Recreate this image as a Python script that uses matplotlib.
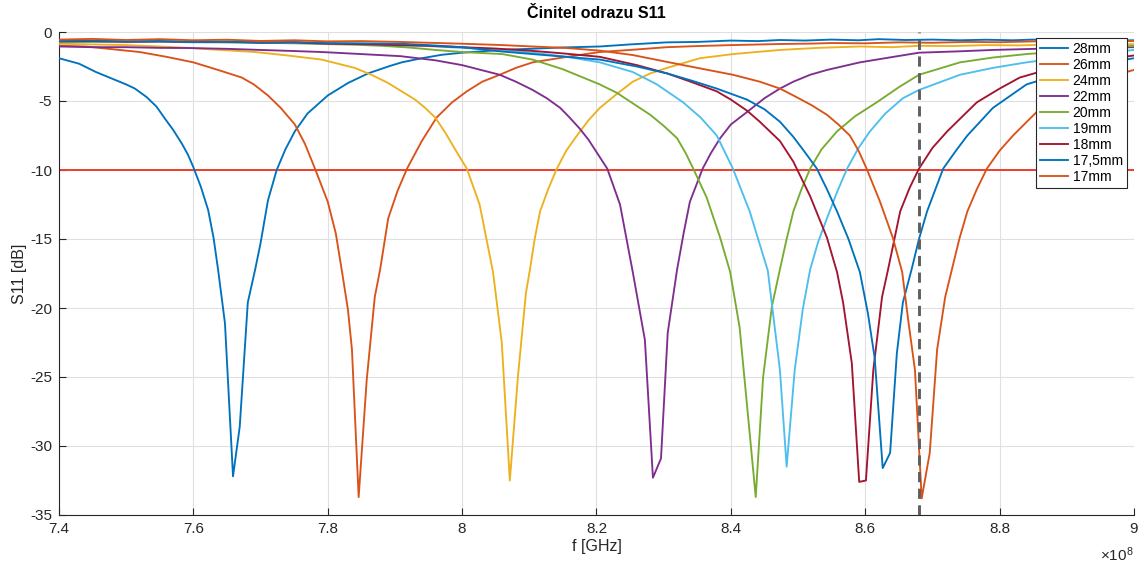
import matplotlib
matplotlib.use("Agg")
import matplotlib.pyplot as plt
from matplotlib.ticker import FixedLocator, FixedFormatter

plt.rcParams['font.family'] = ['Liberation Sans', 'DejaVu Sans']
plt.rcParams['axes.unicode_minus'] = False
plt.rcParams['mathtext.default'] = 'regular'

# Frequencies are given in units of 1e8 Hz, S11 in dB
HZ = 1e8

f28 = [7.400, 7.430, 7.455, 7.480, 7.500, 7.513, 7.530, 7.545, 7.558, 7.570, 7.583, 7.592,
       7.600, 7.611, 7.622, 7.630, 7.637, 7.647, 7.659, 7.669, 7.681, 7.692, 7.700, 7.711,
       7.724, 7.737, 7.751, 7.770, 7.800, 7.830, 7.860, 7.890, 7.910, 7.940, 7.970, 8.000,
       8.030, 8.056, 8.100, 8.150, 8.205, 8.250, 8.305, 8.350, 8.400, 8.440, 8.473, 8.510,
       8.550, 8.590, 8.620, 8.660, 8.700, 8.740, 8.780, 8.820, 8.850, 8.890, 8.920, 8.960, 9.000]
s28 = [-1.9, -2.3, -2.9, -3.4, -3.8, -4.1, -4.7, -5.4, -6.3, -7.1, -8.1, -8.9,
       -9.8, -11.2, -12.9, -14.9, -17.3, -21.1, -32.2, -28.6, -19.6, -17.2, -15.3, -12.2,
       -10.0, -8.5, -7.2, -5.9, -4.6, -3.7, -3.0, -2.5, -2.2, -1.9, -1.65, -1.5,
       -1.4, -1.3, -1.22, -1.12, -1.05, -0.9, -0.75, -0.72, -0.62, -0.66, -0.58, -0.62,
       -0.55, -0.6, -0.52, -0.58, -0.55, -0.6, -0.56, -0.6, -0.55, -0.6, -0.58, -0.62, -0.6]

f26 = [7.400, 7.440, 7.480, 7.520, 7.560, 7.600, 7.640, 7.672, 7.690, 7.711, 7.730, 7.751,
       7.766, 7.781, 7.800, 7.812, 7.821, 7.830, 7.836, 7.846, 7.858, 7.870, 7.878, 7.890,
       7.904, 7.918, 7.940, 7.962, 7.985, 8.007, 8.030, 8.056, 8.080, 8.105, 8.156, 8.205,
       8.250, 8.305, 8.350, 8.400, 8.473, 8.520, 8.550, 8.600, 8.650, 8.700, 8.750, 8.800,
       8.850, 8.920, 9.000]
s26 = [-1.0, -1.05, -1.25, -1.45, -1.8, -2.2, -2.8, -3.3, -3.8, -4.6, -5.5, -6.7,
       -8.1, -9.9, -12.3, -14.6, -17.3, -20.1, -23.0, -33.7, -25.2, -19.2, -17.2, -13.5,
       -11.5, -9.9, -7.9, -6.2, -5.1, -4.3, -3.6, -3.1, -2.6, -2.2, -1.8, -1.45,
       -1.3, -1.1, -1.02, -0.95, -0.87, -0.84, -0.8, -0.82, -0.75, -0.78, -0.72, -0.74,
       -0.68, -0.7, -0.65]

f24 = [7.400, 7.450, 7.500, 7.550, 7.592, 7.640, 7.692, 7.740, 7.791, 7.840, 7.865, 7.890,
       7.910, 7.930, 7.945, 7.960, 7.975, 7.992, 8.007, 8.026, 8.046, 8.059, 8.071, 8.083,
       8.095, 8.101, 8.108, 8.116, 8.128, 8.141, 8.155, 8.171, 8.188, 8.205, 8.230, 8.254,
       8.280, 8.305, 8.354, 8.403, 8.473, 8.530, 8.592, 8.640, 8.680, 8.730, 8.780, 8.830,
       8.880, 8.940, 9.000]
s24 = [-0.85, -0.9, -0.95, -1.05, -1.15, -1.3, -1.45, -1.7, -2.0, -2.6, -3.1, -3.7,
       -4.3, -4.9, -5.5, -6.2, -7.3, -8.7, -9.9, -12.5, -17.4, -22.5, -32.5, -25.0,
       -18.9, -17.2, -15.0, -13.0, -11.4, -9.9, -8.6, -7.5, -6.4, -5.5, -4.5, -3.6,
       -3.0, -2.6, -1.9, -1.6, -1.3, -1.15, -1.05, -1.1, -1.0, -1.02, -0.95, -0.97,
       -0.9, -0.92, -0.88]

f22 = [7.400, 7.450, 7.500, 7.550, 7.592, 7.650, 7.700, 7.750, 7.791, 7.850, 7.908, 7.960,
       8.000, 8.056, 8.080, 8.105, 8.126, 8.146, 8.160, 8.175, 8.188, 8.200, 8.216, 8.235,
       8.254, 8.272, 8.284, 8.296, 8.306, 8.320, 8.330, 8.339, 8.358, 8.370, 8.384, 8.400,
       8.424, 8.450, 8.473, 8.493, 8.518, 8.543, 8.592, 8.642, 8.680, 8.740, 8.790, 8.870,
       8.940, 9.000]
s22 = [-1.05, -1.1, -1.1, -1.15, -1.16, -1.22, -1.3, -1.38, -1.45, -1.6, -1.75, -2.05,
       -2.4, -3.1, -3.6, -4.2, -4.8, -5.5, -6.2, -7.0, -7.8, -8.7, -9.9, -12.5,
       -17.4, -22.3, -32.3, -30.9, -21.8, -17.2, -14.5, -12.3, -9.9, -8.8, -7.7, -6.7,
       -5.8, -4.8, -4.1, -3.6, -3.1, -2.75, -2.2, -1.8, -1.5, -1.4, -1.3, -1.2,
       -1.15, -1.1]

f20 = [7.400, 7.450, 7.500, 7.550, 7.592, 7.650, 7.700, 7.750, 7.791, 7.840, 7.880, 7.920,
       7.960, 8.000, 8.060, 8.105, 8.150, 8.180, 8.205, 8.230, 8.255, 8.280, 8.300, 8.320,
       8.333, 8.344, 8.364, 8.384, 8.399, 8.413, 8.437, 8.448, 8.461, 8.473, 8.483, 8.493,
       8.505, 8.518, 8.535, 8.558, 8.585, 8.617, 8.650, 8.680, 8.741, 8.790, 8.840, 8.920,
       9.000]
s20 = [-0.75, -0.72, -0.74, -0.7, -0.72, -0.76, -0.78, -0.82, -0.87, -0.92, -1.0, -1.12,
       -1.3, -1.45, -1.6, -2.0, -2.7, -3.3, -3.8, -4.4, -5.2, -6.0, -6.8, -7.7,
       -8.8, -9.9, -12.0, -14.9, -17.4, -21.4, -33.7, -25.0, -19.9, -17.2, -15.0, -13.0,
       -11.4, -9.9, -8.5, -7.2, -6.1, -5.1, -4.0, -3.1, -2.2, -1.85, -1.6, -1.3,
       -1.0]

f19 = [7.400, 7.450, 7.500, 7.550, 7.600, 7.650, 7.700, 7.750, 7.800, 7.850, 7.908, 7.950,
       8.000, 8.056, 8.105, 8.156, 8.205, 8.254, 8.290, 8.329, 8.355, 8.379, 8.403, 8.428,
       8.455, 8.473, 8.483, 8.495, 8.507, 8.518, 8.530, 8.543, 8.558, 8.573, 8.590, 8.607,
       8.630, 8.656, 8.680, 8.741, 8.790, 8.840, 8.920, 9.000]
s19 = [-0.7, -0.68, -0.72, -0.7, -0.75, -0.73, -0.8, -0.78, -0.85, -0.88, -0.95, -1.02,
       -1.15, -1.3, -1.5, -1.8, -2.2, -2.9, -3.8, -5.1, -6.2, -7.5, -9.9, -13.0,
       -17.3, -24.5, -31.5, -24.5, -20.1, -17.2, -15.2, -13.5, -11.6, -9.9, -8.4, -7.2,
       -5.9, -4.8, -4.2, -3.1, -2.6, -2.2, -1.7, -1.3]

f18 = [7.400, 7.450, 7.500, 7.550, 7.600, 7.650, 7.700, 7.750, 7.800, 7.850, 7.900, 7.950,
       8.000, 8.050, 8.100, 8.150, 8.205, 8.260, 8.305, 8.340, 8.379, 8.400, 8.424, 8.443,
       8.473, 8.493, 8.518, 8.543, 8.558, 8.567, 8.580, 8.591, 8.601, 8.612, 8.625, 8.634,
       8.652, 8.666, 8.680, 8.700, 8.722, 8.745, 8.766, 8.800, 8.830, 8.880, 8.940, 9.000]
s18 = [-0.68, -0.66, -0.7, -0.68, -0.72, -0.7, -0.78, -0.76, -0.85, -0.88, -0.95, -1.0,
       -1.1, -1.2, -1.35, -1.55, -1.8, -2.4, -3.0, -3.6, -4.3, -4.9, -5.7, -6.5,
       -7.9, -9.4, -11.9, -14.9, -17.4, -19.6, -24.0, -32.6, -32.5, -24.5, -19.2, -17.2,
       -13.0, -11.3, -9.9, -8.4, -7.2, -6.1, -5.1, -4.1, -3.3, -2.6, -2.1, -1.7]

f175 = [7.400, 7.450, 7.500, 7.550, 7.600, 7.650, 7.700, 7.750, 7.800, 7.850, 7.908, 7.950,
        8.000, 8.056, 8.130, 8.205, 8.260, 8.305, 8.340, 8.379, 8.424, 8.450, 8.473, 8.493,
        8.510, 8.528, 8.543, 8.558, 8.575, 8.592, 8.604, 8.614, 8.626, 8.637, 8.647, 8.656,
        8.669, 8.680, 8.692, 8.716, 8.735, 8.752, 8.790, 8.840, 8.900, 8.950, 9.000]
s175 = [-0.65, -0.62, -0.68, -0.66, -0.72, -0.7, -0.75, -0.73, -0.8, -0.82, -0.85, -0.95,
        -1.1, -1.4, -1.7, -2.0, -2.5, -3.0, -3.5, -4.1, -4.9, -5.6, -6.5, -7.6,
        -8.7, -9.9, -11.4, -13.0, -15.0, -17.4, -20.4, -23.6, -31.6, -30.5, -23.3, -19.6,
        -17.2, -15.0, -13.0, -9.9, -8.6, -7.5, -5.5, -3.8, -2.9, -2.3, -1.9]

f17 = [7.400, 7.450, 7.500, 7.550, 7.600, 7.650, 7.700, 7.750, 7.800, 7.850, 7.908, 7.950,
       8.000, 8.056, 8.105, 8.156, 8.205, 8.254, 8.329, 8.403, 8.443, 8.473, 8.493, 8.520,
       8.543, 8.560, 8.577, 8.590, 8.602, 8.622, 8.641, 8.655, 8.664, 8.674, 8.684, 8.696,
       8.707, 8.719, 8.729, 8.740, 8.752, 8.766, 8.781, 8.800, 8.820, 8.855, 8.900, 8.950,
       9.000]
s17 = [-0.55, -0.5, -0.58, -0.52, -0.6, -0.56, -0.65, -0.6, -0.68, -0.66, -0.72, -0.78,
       -0.85, -0.94, -1.05, -1.16, -1.35, -1.67, -2.4, -3.1, -3.6, -4.1, -4.6, -5.3,
       -6.0, -6.7, -7.5, -8.6, -9.9, -12.3, -14.9, -17.4, -20.9, -24.5, -33.8, -30.5,
       -23.0, -19.2, -17.2, -15.0, -13.0, -11.4, -9.9, -8.6, -7.5, -5.8, -4.3, -3.4,
       -2.75]

labels = ["28mm", "26mm", "24mm", "22mm", "20mm", "19mm", "18mm", "17,5mm", "17mm"]
series = [(f28, s28), (f26, s26), (f24, s24), (f22, s22), (f20, s20),
          (f19, s19), (f18, s18), (f175, s175), (f17, s17)]
colors = ["#0072BD", "#D95319", "#EDB120", "#7E2F8E", "#77AC30",
          "#4DBEEE", "#A2142F", "#0072BD", "#D95319"]

xticks = [7.4, 7.6, 7.8, 8.0, 8.2, 8.4, 8.6, 8.8, 9.0]
xtick_labels = ["7.4", "7.6", "7.8", "8", "8.2", "8.4", "8.6", "8.8", "9"]
yticks = [-35, -30, -25, -20, -15, -10, -5, 0]
threshold_db = -10
marker_freq = 8.68

fig = plt.figure(figsize=(11.47, 5.67), dpi=100)
ax = fig.add_axes([59 / 1147, 52 / 567, 1075 / 1147, 483 / 567])

for (f, s), lab, c in zip(series, labels, colors):
    ax.plot([v * HZ for v in f], s, color=c, lw=1.35, label=lab, zorder=3)

ax.axhline(threshold_db, color="#f03c2e", lw=1.4, zorder=2)
ax.axvline(marker_freq * HZ, color="#5f5f5f", lw=2.1, ls=(0, (3.5, 2.2)), zorder=4)

ax.set_xlim(xticks[0] * HZ, xticks[-1] * HZ)
ax.set_ylim(yticks[0], yticks[-1])
ax.xaxis.set_major_locator(FixedLocator([v * HZ for v in xticks]))
ax.xaxis.set_major_formatter(FixedFormatter(xtick_labels))
ax.set_yticks(yticks)
ax.set_yticklabels([str(v) for v in yticks])

ax.grid(True, color="#e0e0e0", lw=0.8)
ax.set_axisbelow(True)
for side in ("top", "right"):
    ax.spines[side].set_visible(False)
for side in ("left", "bottom"):
    ax.spines[side].set_color("#262626")
    ax.spines[side].set_linewidth(0.8)
ax.tick_params(direction="in", length=5, width=0.8, colors="#262626",
               labelsize=11, pad=5)

ax.text(1.0, -0.062, r"$\times10^{8}$", transform=ax.transAxes,
        ha="right", va="top", fontsize=11, color="#262626")

ax.set_xlabel("f [GHz]", fontsize=11.5, color="#262626", labelpad=2)
ax.set_ylabel("S11 [dB]", fontsize=11.5, color="#262626", labelpad=2)
ax.set_title("Činitel odrazu S11", fontsize=11.5, fontweight="bold", pad=10)

leg = ax.legend(loc="upper right", bbox_to_anchor=(1127 / 1147, 1 - 38 / 567),
                bbox_transform=fig.transFigure, borderaxespad=0, fontsize=10,
                frameon=True, fancybox=False, framealpha=1, edgecolor="#262626",
                handlelength=2.0, handletextpad=0.35, labelspacing=0.14,
                borderpad=0.3)
leg.get_frame().set_linewidth(0.8)

fig.savefig("out.png", dpi=100)
